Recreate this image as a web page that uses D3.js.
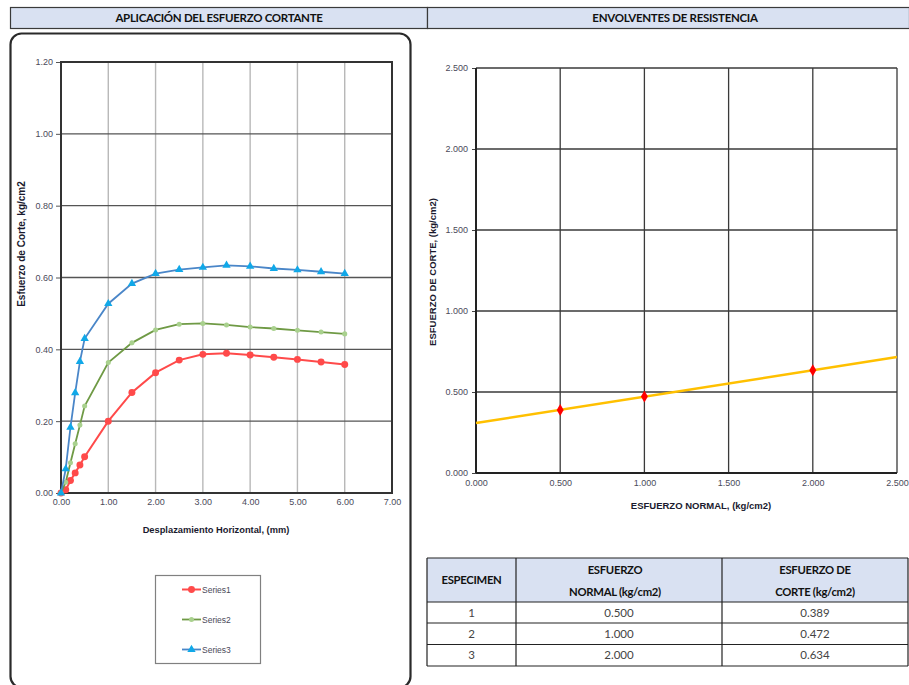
<!DOCTYPE html>
<html>
<head>
<meta charset="utf-8">
<script src="https://cdn.jsdelivr.net/npm/d3@7"></script>
<style>
  html, body { margin: 0; padding: 0; background: #fff; }
  svg { display: block; }
</style>
</head>
<body>
<svg id="chart" width="909" height="685"></svg>
<script>
// Horizontal displacement (mm) at each reading
const displacement = [0, 0.1, 0.2, 0.3, 0.4, 0.5, 1.0, 1.5, 2.0, 2.5, 3.0, 3.5, 4.0, 4.5, 5.0, 5.5, 6.0];
// Shear stress (kg/cm2) per specimen
const series1 = [0, 0.009, 0.035, 0.056, 0.078, 0.101, 0.200, 0.280, 0.335, 0.370, 0.386, 0.389, 0.384, 0.378, 0.372, 0.365, 0.358];
const series2 = [0, 0.030, 0.084, 0.137, 0.189, 0.242, 0.363, 0.418, 0.454, 0.470, 0.472, 0.468, 0.462, 0.458, 0.453, 0.448, 0.443];
const series3 = [0, 0.067, 0.183, 0.279, 0.366, 0.430, 0.527, 0.583, 0.611, 0.622, 0.628, 0.634, 0.631, 0.625, 0.621, 0.616, 0.611];
const seriesNames = ["Series1", "Series2", "Series3"];

// Strength envelope points
const specimens = ["1", "2", "3"];
const normalStress = [0.500, 1.000, 2.000];
const shearStress = [0.389, 0.472, 0.634];

const leftXTicks = [0, 1, 2, 3, 4, 5, 6, 7];
const leftYTicks = [0, 0.2, 0.4, 0.6, 0.8, 1.0, 1.2];
const rightTicks = [0, 0.5, 1.0, 1.5, 2.0, 2.5];

const svg = d3.select("#chart");
const labelFont = "Arial, 'Liberation Sans', sans-serif";
const docFont = "Lato, 'Open Sans', sans-serif";

// ---------- section headers ----------
const header = svg.append("g");
header.append("rect").attr("x", 10.5).attr("y", 7.5).attr("width", 417).attr("height", 21)
  .attr("fill", "#d9e1f2").attr("stroke", "#3a3a3a").attr("stroke-width", 1.2);
header.append("rect").attr("x", 427.5).attr("y", 7.5).attr("width", 482).attr("height", 21)
  .attr("fill", "#d9e1f2").attr("stroke", "#3a3a3a").attr("stroke-width", 1.2);
header.selectAll("text").data([
  { t: "APLICACIÓN DEL ESFUERZO CORTANTE", x: 219 },
  { t: "ENVOLVENTES DE RESISTENCIA", x: 675 }
]).join("text")
  .attr("x", d => d.x).attr("y", 22)
  .attr("text-anchor", "middle")
  .attr("font-family", docFont).attr("font-weight", "bold")
  .attr("font-size", 11.5).attr("letter-spacing", -0.3)
  .attr("fill", "#111")
  .text(d => d.t);

// rounded frame around the shear chart
svg.append("rect").attr("x", 10.5).attr("y", 33.5).attr("width", 400).attr("height", 654)
  .attr("rx", 11).attr("ry", 11)
  .attr("fill", "none").attr("stroke", "#2a2a2a").attr("stroke-width", 2.2);

// ---------- left chart: shear stress vs displacement ----------
const L = { x0: 61, x1: 392, y0: 493, y1: 62 };
const lx = d3.scaleLinear().domain([0, 7]).range([L.x0, L.x1]);
const ly = d3.scaleLinear().domain([0, 1.2]).range([L.y0, L.y1]);
const gl = svg.append("g");

gl.append("g").selectAll("line").data(leftXTicks.slice(1, -1)).join("line")
  .attr("x1", d => lx(d)).attr("x2", d => lx(d))
  .attr("y1", L.y1).attr("y2", L.y0)
  .attr("stroke", "#b8b8b8").attr("stroke-width", 1.4);
gl.append("g").selectAll("line").data(leftYTicks.slice(1, -1)).join("line")
  .attr("x1", L.x0).attr("x2", L.x1)
  .attr("y1", d => ly(d)).attr("y2", d => ly(d))
  .attr("stroke", "#555").attr("stroke-width", 1.4);

const lxAxis = gl.append("g").attr("transform", `translate(0,${L.y0})`)
  .call(d3.axisBottom(lx).tickValues(leftXTicks).tickFormat(d3.format(".2f")).tickSize(0).tickPadding(6));
const lyAxis = gl.append("g").attr("transform", `translate(${L.x0},0)`)
  .call(d3.axisLeft(ly).tickValues(leftYTicks).tickFormat(d3.format(".2f")).tickSize(5).tickPadding(3));
[lxAxis, lyAxis].forEach(a => {
  a.select(".domain").remove();
  a.selectAll("text").attr("font-family", labelFont).attr("font-size", 9).attr("fill", "#4a4a5a");
  a.selectAll("line").attr("stroke", "#555");
});

gl.append("rect").attr("x", L.x0).attr("y", L.y1).attr("width", L.x1 - L.x0).attr("height", L.y0 - L.y1)
  .attr("fill", "none").attr("stroke", "#333").attr("stroke-width", 2);

const styles = [
  { line: "#ff4a4a", mark: "#ff4a4a", sym: d3.symbolCircle, size: 38, w: 2 },
  { line: "#6f9a45", mark: "#a9d18e", sym: d3.symbolCircle, size: 20, w: 1.8 },
  { line: "#4a86c8", mark: "#10a8e8", sym: d3.symbolTriangle, size: 30, w: 1.8 }
];
const allSeries = [series1, series2, series3];
const line = d3.line().x(d => lx(d[0])).y(d => ly(d[1]));

allSeries.forEach((vals, i) => {
  const pts = displacement.map((x, j) => [x, vals[j]]);
  const s = styles[i];
  gl.append("path").datum(pts).attr("d", line)
    .attr("fill", "none").attr("stroke", s.line).attr("stroke-width", s.w);
  gl.append("g").selectAll("path").data(pts).join("path")
    .attr("transform", d => `translate(${lx(d[0])},${ly(d[1])})`)
    .attr("d", d3.symbol().type(s.sym).size(s.size))
    .attr("fill", s.mark);
});

gl.append("text")
  .attr("transform", `translate(25,244) rotate(-90)`)
  .attr("text-anchor", "middle")
  .attr("font-family", labelFont).attr("font-weight", "bold").attr("font-size", 10)
  .attr("fill", "#1a1a2e")
  .text("Esfuerzo de Corte,  kg/cm2");
gl.append("text")
  .attr("x", 216).attr("y", 533)
  .attr("text-anchor", "middle")
  .attr("font-family", labelFont).attr("font-weight", "bold").attr("font-size", 9.3)
  .attr("fill", "#1a1a2e")
  .text("Desplazamiento Horizontal,  (mm)");

// legend
const lg = svg.append("g");
lg.append("rect").attr("x", 155.5).attr("y", 575.5).attr("width", 105).attr("height", 88)
  .attr("fill", "#fff").attr("stroke", "#808080").attr("stroke-width", 1.2);
seriesNames.forEach((name, i) => {
  const y = 589.5 + i * 30;
  const s = styles[i];
  lg.append("line").attr("x1", 182).attr("x2", 201).attr("y1", y).attr("y2", y)
    .attr("stroke", s.line).attr("stroke-width", s.w);
  lg.append("path").attr("transform", `translate(191.5,${y})`)
    .attr("d", d3.symbol().type(s.sym).size(s.size)).attr("fill", s.mark);
  lg.append("text").attr("x", 202).attr("y", y + 3)
    .attr("font-family", labelFont).attr("font-size", 8.5).attr("fill", "#4a4a5a")
    .text(name);
});

// ---------- right chart: strength envelope ----------
const R = { x0: 476, x1: 897, y0: 473, y1: 68 };
const rx = d3.scaleLinear().domain([0, 2.5]).range([R.x0, R.x1]);
const ry = d3.scaleLinear().domain([0, 2.5]).range([R.y0, R.y1]);
const gr = svg.append("g");

gr.append("g").selectAll("line").data(rightTicks.slice(1)).join("line")
  .attr("x1", d => rx(d)).attr("x2", d => rx(d))
  .attr("y1", R.y1).attr("y2", R.y0)
  .attr("stroke", "#3a3a3a").attr("stroke-width", 1.3);
gr.append("g").selectAll("line").data(rightTicks.slice(1)).join("line")
  .attr("x1", R.x0).attr("x2", R.x1)
  .attr("y1", d => ry(d)).attr("y2", d => ry(d))
  .attr("stroke", "#3a3a3a").attr("stroke-width", 1.3);

const rxAxis = gr.append("g").attr("transform", `translate(0,${R.y0})`)
  .call(d3.axisBottom(rx).tickValues(rightTicks).tickFormat(d3.format(".3f")).tickSize(0).tickPadding(7));
const ryAxis = gr.append("g").attr("transform", `translate(${R.x0},0)`)
  .call(d3.axisLeft(ry).tickValues(rightTicks).tickFormat(d3.format(".3f")).tickSize(4).tickPadding(4));
[rxAxis, ryAxis].forEach(a => {
  a.select(".domain").remove();
  a.selectAll("text").attr("font-family", labelFont).attr("font-size", 9).attr("fill", "#4a4a5a");
  a.selectAll("line").attr("stroke", "#444");
});
gr.append("line").attr("x1", R.x0).attr("x2", R.x0).attr("y1", R.y1).attr("y2", R.y0)
  .attr("stroke", "#222").attr("stroke-width", 2);
gr.append("line").attr("x1", R.x0).attr("x2", R.x1).attr("y1", R.y0).attr("y2", R.y0)
  .attr("stroke", "#222").attr("stroke-width", 2);

// least-squares envelope through the specimen points
const mx = d3.mean(normalStress), my = d3.mean(shearStress);
const sxy = d3.sum(normalStress, (x, i) => (x - mx) * (shearStress[i] - my));
const sxx = d3.sum(normalStress, x => (x - mx) * (x - mx));
const slope = sxy / sxx, intercept = my - slope * mx;
gr.append("line")
  .attr("x1", rx(0)).attr("y1", ry(intercept))
  .attr("x2", rx(2.5)).attr("y2", ry(intercept + slope * 2.5))
  .attr("stroke", "#ffc000").attr("stroke-width", 2.5);
gr.append("g").selectAll("path").data(normalStress).join("path")
  .attr("transform", (d, i) => `translate(${rx(d)},${ry(shearStress[i])})`)
  .attr("d", d3.symbol().type(d3.symbolDiamond).size(42))
  .attr("fill", "#ff0000");

gr.append("text")
  .attr("transform", `translate(436,272) rotate(-90)`)
  .attr("text-anchor", "middle")
  .attr("font-family", labelFont).attr("font-weight", "bold").attr("font-size", 9.5)
  .attr("fill", "#1a1a2e")
  .text("ESFUERZO DE CORTE, (kg/cm2)");
gr.append("text")
  .attr("x", 701).attr("y", 509)
  .attr("text-anchor", "middle")
  .attr("font-family", labelFont).attr("font-weight", "bold").attr("font-size", 9.5)
  .attr("fill", "#1a1a2e")
  .text("ESFUERZO NORMAL, (kg/cm2)");

// ---------- table ----------
const cols = [427, 516, 722, 908];
const rowsY = [558, 602, 623, 644.5, 666];
const tg = svg.append("g");
tg.append("rect").attr("x", cols[0]).attr("y", rowsY[0])
  .attr("width", cols[3] - cols[0]).attr("height", rowsY[1] - rowsY[0]).attr("fill", "#d9e1f2");
rowsY.forEach(y => tg.append("line").attr("x1", cols[0]).attr("x2", cols[3])
  .attr("y1", y).attr("y2", y).attr("stroke", "#222").attr("stroke-width", 1.2));
cols.forEach(x => tg.append("line").attr("x1", x).attr("x2", x)
  .attr("y1", rowsY[0]).attr("y2", rowsY[4]).attr("stroke", "#222").attr("stroke-width", 1.2));

const headCells = [
  { x: (cols[0] + cols[1]) / 2, lines: ["ESPECIMEN"], y: [584] },
  { x: (cols[1] + cols[2]) / 2 - 4, lines: ["ESFUERZO", "NORMAL (kg/cm2)"], y: [574, 596] },
  { x: (cols[2] + cols[3]) / 2, lines: ["ESFUERZO DE", "CORTE (kg/cm2)"], y: [574, 596] }
];
headCells.forEach(c => c.lines.forEach((t, k) => tg.append("text")
  .attr("x", c.x).attr("y", c.y[k]).attr("text-anchor", "middle")
  .attr("font-family", docFont).attr("font-weight", "bold").attr("font-size", 11.3)
  .attr("letter-spacing", -0.3).attr("fill", "#111").text(t)));

const fmt3 = d3.format(".3f");
specimens.forEach((s, i) => {
  const y = (rowsY[i + 1] + rowsY[i + 2]) / 2 + 4;
  [[s, cols[0], cols[1]], [fmt3(normalStress[i]), cols[1], cols[2]], [fmt3(shearStress[i]), cols[2], cols[3]]]
    .forEach(([t, a, b]) => tg.append("text")
      .attr("x", (a + b) / 2).attr("y", y).attr("text-anchor", "middle")
      .attr("font-family", docFont).attr("font-size", 11.5).attr("fill", "#444").text(t));
});
</script>
</body>
</html>
